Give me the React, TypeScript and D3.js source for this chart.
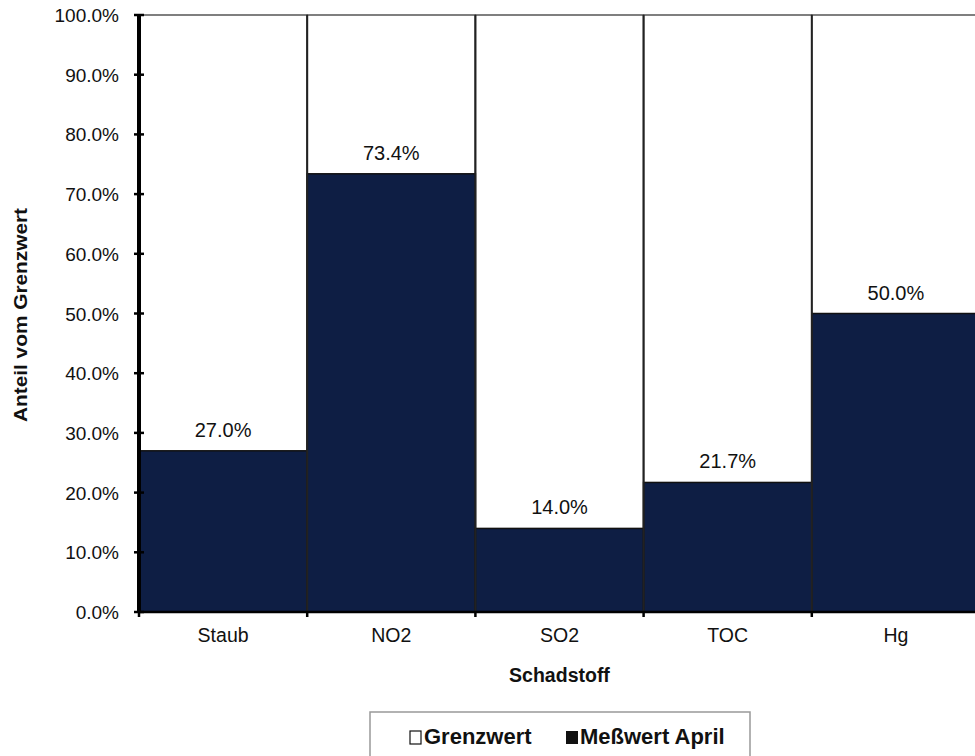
import React from "react";
import * as d3 from "d3";

const categories = ["Staub", "NO2", "SO2", "TOC", "Hg"];
const grenzwert = [100, 100, 100, 100, 100];
const messwert = [27.0, 73.4, 14.0, 21.7, 50.0];
const yTicks = [0, 10, 20, 30, 40, 50, 60, 70, 80, 90, 100];

const W = 975;
const H = 756;
const left = 139;
const right = 980;
const top = 15;
const bottom = 612;
const navy = "#0e1e44";
const font = "Liberation Sans, Arial, sans-serif";

export default function App() {
  const x = d3.scaleBand<string>().domain(categories).range([left, right]).padding(0);
  const y = d3.scaleLinear().domain([0, 100]).range([bottom, top]);
  const bw = x.bandwidth();
  return (
    <svg width={W} height={H} style={{ position: "absolute", left: 0, top: 0 }} fontFamily={font}>
      <rect x={0} y={0} width={W} height={H} fill="#fff" />
      {categories.map((c, i) => (
        <rect key={"g" + c} x={x(c)!} y={y(grenzwert[i])} width={bw} height={y(0) - y(grenzwert[i])}
          fill="#fff" stroke="#555" strokeWidth={1.5} />
      ))}
      {categories.map((c, i) => (
        <rect key={"m" + c} x={x(c)!} y={y(messwert[i])} width={bw} height={y(0) - y(messwert[i])}
          fill={navy} stroke="#111" strokeWidth={1.5} />
      ))}
      {categories.map((c) => (
        <line key={"s" + c} x1={x(c)!} x2={x(c)!} y1={y(100)} y2={y(0)} stroke="#222" strokeWidth={2} />
      ))}
      {categories.map((c, i) => (
        <text key={"l" + c} x={x(c)! + bw / 2} y={y(messwert[i]) - 14} textAnchor="middle" fontSize={20} fill="#111">
          {messwert[i].toFixed(1) + "%"}
        </text>
      ))}
      {/* y axis */}
      <line x1={left} x2={left} y1={top} y2={bottom} stroke="#000" strokeWidth={4} />
      {yTicks.map((t) => (
        <g key={"t" + t}>
          <line x1={left - 5} x2={left + 5} y1={y(t)} y2={y(t)} stroke="#000" strokeWidth={2.5} />
          <text x={119} y={y(t) + 7} textAnchor="end" fontSize={19} fill="#111">{t.toFixed(1) + "%"}</text>
        </g>
      ))}
      {/* x axis */}
      <line x1={left} x2={right} y1={bottom} y2={bottom} stroke="#000" strokeWidth={2.5} />
      {categories.map((c) => (
        <line key={"xt" + c} x1={x(c)!} x2={x(c)!} y1={bottom} y2={bottom + 5} stroke="#000" strokeWidth={2.5} />
      ))}
      {categories.map((c) => (
        <text key={"xl" + c} x={x(c)! + bw / 2} y={642} textAnchor="middle" fontSize={19.5} fill="#111">{c}</text>
      ))}
      <text x={(left + right) / 2} y={682} textAnchor="middle" fontSize={19.5} fontWeight="bold" fill="#111">Schadstoff</text>
      <text transform={`translate(27, ${315}) rotate(-90)`} textAnchor="middle" fontSize={19} fontWeight="bold" fill="#111"
        textLength={214} lengthAdjust="spacingAndGlyphs">
        Anteil vom Grenzwert
      </text>
      {/* legend */}
      <rect x={370} y={712} width={380} height={52} fill="#fff" stroke="#999" strokeWidth={1.5} />
      <rect x={410} y={731} width={11} height={13} fill="#fff" stroke="#111" strokeWidth={1.2} />
      <text x={424} y={744} fontSize={22} fontWeight="bold" fill="#111">Grenzwert</text>
      <rect x={566} y={731} width={12} height={13} fill="#111" />
      <text x={580} y={744} fontSize={22} fontWeight="bold" fill="#111">Meßwert April</text>
    </svg>
  );
}
